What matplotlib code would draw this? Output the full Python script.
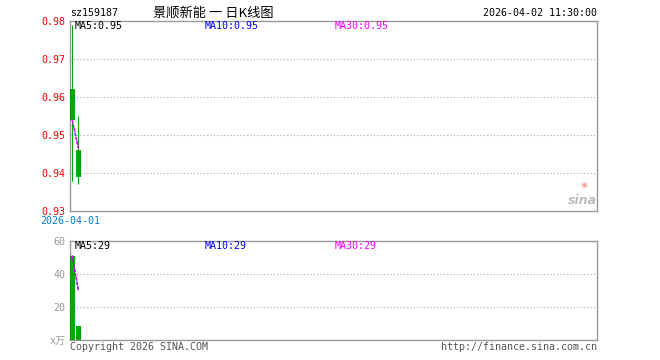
import matplotlib
matplotlib.use("Agg")
import matplotlib.pyplot as plt
import numpy as np

plt.rcParams["font.family"] = ["DejaVu Sans Mono", "Noto Sans CJK SC"]

code = "sz159187"
name = "景顺新能 一 日K线图"
stamp = "2026-04-02 11:30:00"
dates = ["2026-04-01", "2026-04-02"]
opens = [0.962, 0.946]
closes = [0.954, 0.939]
highs = [0.979, 0.955]
lows = [0.938, 0.937]
volumes = [51.0, 8.5]  # 万手
price_ticks = [0.93, 0.94, 0.95, 0.96, 0.97, 0.98]
vol_ticks = [0, 20, 40, 60]
vol_tick_labels = ["x万", "20", "40", "60"]

GREEN = "#00a800"
GRID = "#aaaaaa"
FRAME = "#999999"
FS = 7.2
W, H = 660, 360


def moving_avg(vals, n):
    out = []
    for i in range(len(vals)):
        win = vals[max(0, i - n + 1): i + 1]
        out.append(sum(win) / len(win))
    return out


def px_axes(fig, left, top, right, bottom):
    return fig.add_axes([left / W, 1 - bottom / H, (right - left) / W, (bottom - top) / H])


def style_frame(ax, ticks, labels, color):
    for s in ax.spines.values():
        s.set_color(FRAME)
        s.set_linewidth(1.0)
    ax.set_yticks(ticks)
    ax.set_yticklabels(labels)
    ax.tick_params(axis="y", length=0, pad=3.5, labelsize=FS, labelcolor=color)
    ax.set_xticks([])
    for t in ticks[1:-1]:
        ax.axhline(t, color=GRID, lw=0.8, ls=(0, (1, 2)), zorder=0)


fig = plt.figure(figsize=(W / 100, H / 100), dpi=100)
x = np.arange(len(dates))
xlim = (-0.355, 84.6)

# price panel
ax = px_axes(fig, 70, 21, 597, 211)
ax.set_xlim(*xlim)
ax.set_ylim(0.93, 0.98)
style_frame(ax, price_ticks, [f"{t:.2f}" for t in price_ticks], "red")
body = [c - o for o, c in zip(opens, closes)]
ax.vlines(x, lows, highs, color=GREEN, lw=0.8, zorder=2)
ax.bar(x, body, bottom=opens, width=0.75, color=GREEN, zorder=3)
for n, col in [(30, "#888888"), (10, "blue"), (5, "magenta")]:
    ax.plot(x, moving_avg(closes, n), color=col, lw=0.8, ls=(0, (3, 1)), zorder=4)
ma_y = 1 - 5 / 190
ax.text(5 / 527, ma_y, f"MA5:{moving_avg(closes, 5)[-1]:.2f}", transform=ax.transAxes,
        fontsize=FS, color="black", va="center")
ax.text(135 / 527, ma_y, f"MA10:{moving_avg(closes, 10)[-1]:.2f}", transform=ax.transAxes,
        fontsize=FS, color="blue", va="center")
ax.text(265 / 527, ma_y, f"MA30:{moving_avg(closes, 30)[-1]:.2f}", transform=ax.transAxes,
        fontsize=FS, color="magenta", va="center")
ax.text(0, -10 / 190, dates[0], transform=ax.transAxes, fontsize=FS,
        color="#0080d0", ha="center", va="center")
# sina watermark
ax.text(1, 11 / 190, "sina", transform=ax.transAxes, fontsize=9, fontweight="bold",
        style="italic", family="DejaVu Sans", color="#bbbbbb", ha="right", va="center")
ax.text(0.976, 25 / 190, "✺", transform=ax.transAxes, fontsize=6,
        family="DejaVu Sans", color="#f4a0a0", ha="center", va="center")

# header
fig.text(70 / W, 1 - 13 / H, code, fontsize=FS, va="center", ha="left")
fig.text(213 / W, 1 - 13 / H, name, fontsize=9.5, va="center", ha="center",
         family=["Noto Sans CJK SC", "DejaVu Sans"])
fig.text(597 / W, 1 - 13 / H, stamp, fontsize=FS, va="center", ha="right")

# volume panel
av = px_axes(fig, 70, 240.7, 597, 340)
av.set_xlim(*xlim)
av.set_ylim(0, 60)
style_frame(av, vol_ticks, vol_tick_labels, "#999999")
av.bar(x, volumes, width=0.75, color=GREEN, zorder=3)
for n, col in [(30, "#888888"), (10, "blue"), (5, "magenta")]:
    av.plot(x, moving_avg(volumes, n), color=col, lw=0.8, ls=(0, (3, 1)), zorder=4)
vy = 1 - 5.5 / 99.3
av.text(5 / 527, vy, f"MA5:{int(moving_avg(volumes, 5)[-1])}", transform=av.transAxes,
        fontsize=FS, color="black", va="center")
av.text(135 / 527, vy, f"MA10:{int(moving_avg(volumes, 10)[-1])}", transform=av.transAxes,
        fontsize=FS, color="blue", va="center")
av.text(265 / 527, vy, f"MA30:{int(moving_avg(volumes, 30)[-1])}", transform=av.transAxes,
        fontsize=FS, color="magenta", va="center")

fig.text(70 / W, 1 - 346.5 / H, "Copyright 2026 SINA.COM", fontsize=FS,
         color="#555555", va="center", ha="left")
fig.text(597 / W, 1 - 346.5 / H, "http://finance.sina.com.cn", fontsize=FS,
         color="#555555", va="center", ha="right")

fig.savefig("out.png", dpi=100, facecolor="white")
